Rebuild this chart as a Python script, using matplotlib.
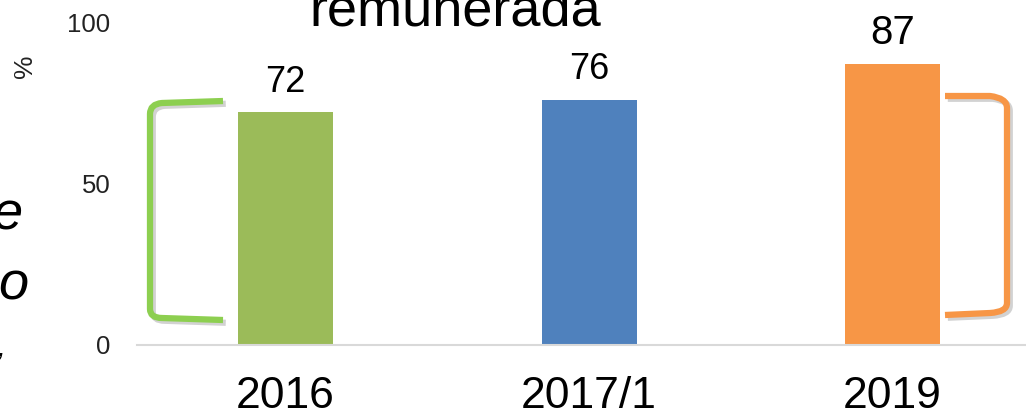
import matplotlib
matplotlib.use("Agg")
import matplotlib.pyplot as plt
from matplotlib.path import Path
from matplotlib.patches import PathPatch
import matplotlib.patheffects as pe

categories = ["2016", "2017/1", "2019"]
values = [72, 76, 87]
bar_colors = ["#9BBB59", "#4F81BD", "#F79646"]
yticks = [0, 50, 100]

plt.rcParams['font.family'] = ['Liberation Sans', 'DejaVu Sans']

W, H = 1026, 417
fig = plt.figure(figsize=(W / 100, H / 100), dpi=100)

def fx(x):
    return x / W

def fy(y):
    return 1 - y / H

ax = fig.add_axes([fx(137), fy(345), fx(1026) - fx(137), fy(22) - fy(345)])
x = list(range(len(categories)))
ax.bar(x, values, width=0.313, color=bar_colors, zorder=2)
ax.set_xlim(-0.49, 2.44)
ax.set_ylim(0, 100)
ax.set_yticks(yticks)
ax.set_yticklabels([str(v) for v in yticks], fontsize=18.5, color="#222222")
ax.set_xticks(x)
ax.set_xticklabels(categories, fontsize=32, color="black")
ax.tick_params(axis="y", length=0, pad=19)
ax.tick_params(axis="x", length=0, pad=22.5)
for s in ["left", "right", "top"]:
    ax.spines[s].set_visible(False)
ax.spines["bottom"].set_color("#D9D9D9")
ax.spines["bottom"].set_linewidth(1.5)

for i, v in enumerate(values):
    fs = 29 if i == 2 else 26
    ax.annotate(str(v), (i, v), xytext=(0, 14.5), textcoords="offset points",
                ha="center", va="baseline", fontsize=fs, color="black")

# title (partially cut off)
fig.text(fx(455), fy(25), "remunerada", ha="center", va="baseline", fontsize=39, color="black")

# % label
fig.text(fx(25), fy(66), "%", rotation=90, ha="center", va="center", fontsize=19, color="#222222")

# fragments of text cut at left edge
fig.text(fx(22), fy(229), "e", ha="right", va="baseline", fontsize=39, style="italic", color="black")
fig.text(fx(28), fy(299), "o", ha="right", va="baseline", fontsize=39, style="italic", color="black")
fig.text(fx(5), fy(356), ",", ha="right", va="baseline", fontsize=20, style="italic", color="black")

# brackets
shadow = [pe.SimpleLineShadow(offset=(2, -2), shadow_color="gray", alpha=0.35), pe.Normal()]

def bracket(pts, color):
    verts = [(fx(a), fy(b)) for a, b in pts]
    codes = [Path.MOVETO, Path.LINETO, Path.CURVE3, Path.CURVE3, Path.LINETO,
             Path.CURVE3, Path.CURVE3, Path.LINETO]
    p = PathPatch(Path(verts, codes), transform=fig.transFigure, fill=False,
                  edgecolor=color, linewidth=4.5, capstyle="butt", joinstyle="round",
                  path_effects=shadow, zorder=5)
    fig.add_artist(p)

bracket([(223, 101), (162, 103), (150, 104), (150, 114), (150, 309),
         (150, 318), (162, 318), (223, 320)], "#8DCF50")
bracket([(945, 96), (990, 96), (1007, 98), (1007, 108), (1007, 303),
         (1007, 312), (990, 313), (945, 315)], "#F79646")

fig.savefig("out.png", dpi=100)
